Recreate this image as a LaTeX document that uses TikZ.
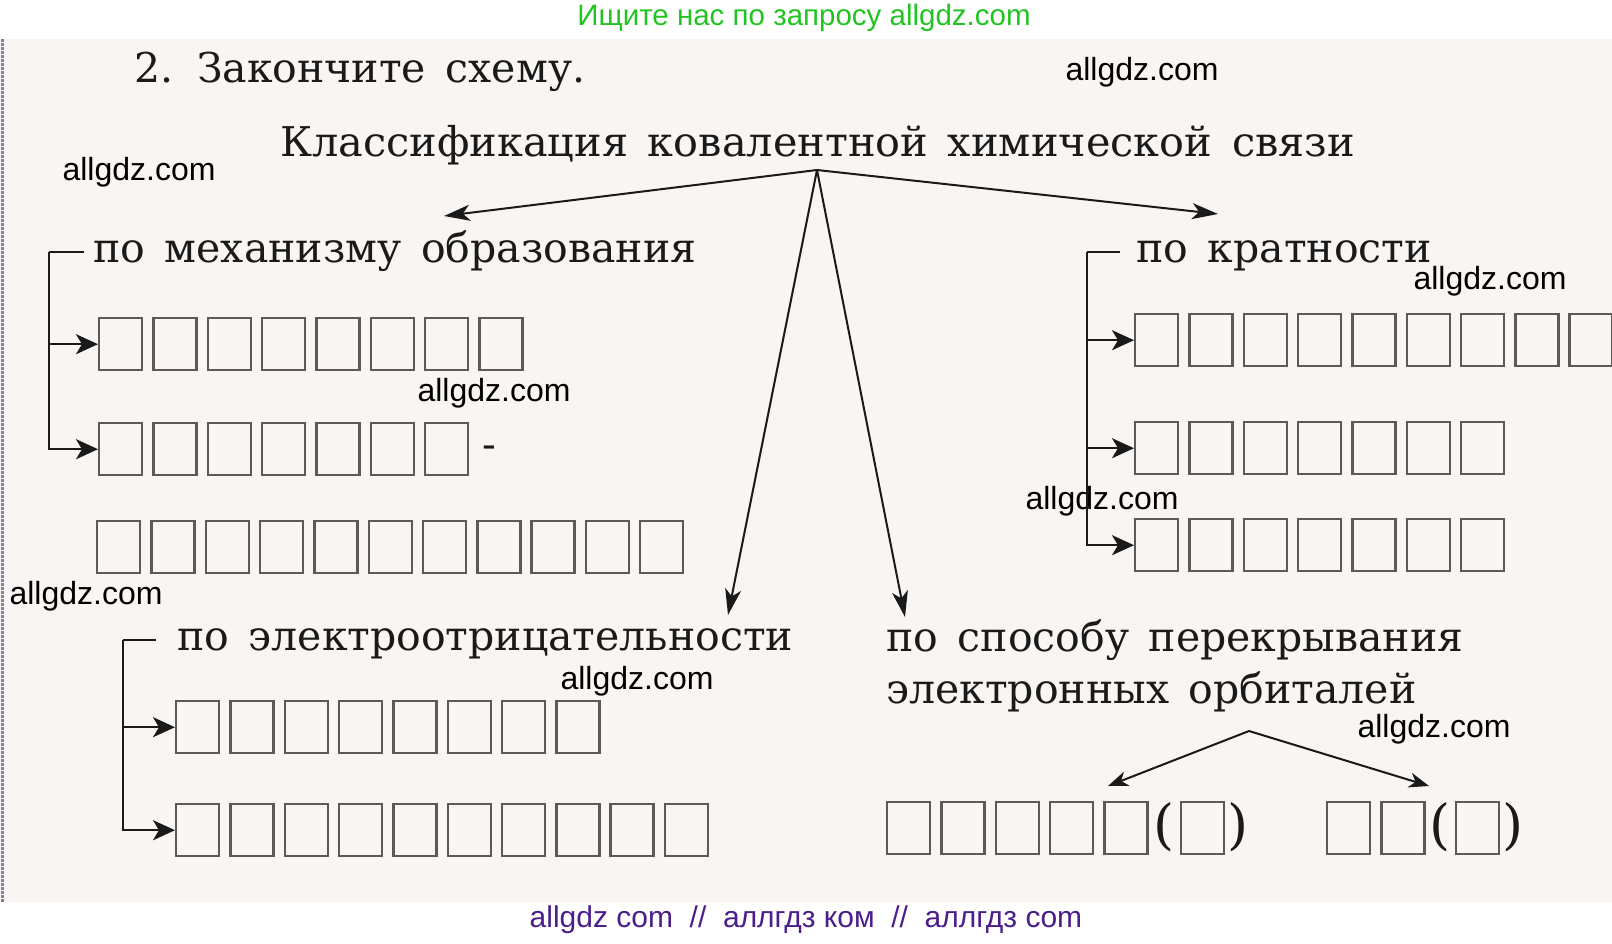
\documentclass[tikz,border=0pt]{standalone}
\usepackage{fontspec}
\setmainfont{DejaVu Serif}[WordSpace=1.5]
\newfontfamily\wmfont{Liberation Sans}
\usetikzlibrary{arrows.meta}
\definecolor{paper}{HTML}{F8F5F2}
\definecolor{ink}{HTML}{1A1A1A}
\definecolor{boxgray}{HTML}{5A5A5A}
\definecolor{wmgreen}{HTML}{22C422}
\definecolor{wmpurple}{HTML}{4B1E8C}
\definecolor{edge}{HTML}{8C7C94}
\tikzset{
  cell/.style={draw=boxgray,line width=2.4pt,minimum width=43pt,minimum height=52pt,inner sep=0pt,anchor=north west},
  lbl/.style={anchor=base west,inner sep=0pt,text=ink,font=\fontsize{41}{41}\selectfont},
  paren/.style={anchor=center,inner sep=0pt,text=ink,font=\fontsize{54}{54}\selectfont},
  wm/.style={inner sep=0pt,font=\wmfont\fontsize{32}{32}\selectfont},
  arr/.style={draw=ink,line width=2pt,-{Stealth[length=26pt,width=16pt,inset=7pt]}},
  sarr/.style={draw=ink,line width=2pt,-{Stealth[length=20pt,width=15pt,inset=6pt]}},
  brk/.style={draw=ink,line width=2.4pt,-{Stealth[length=22pt,width=20pt,inset=6pt]}},
}
\begin{document}
\begin{tikzpicture}[x=1pt,y=-1pt]
\useasboundingbox (0,0) rectangle (1612,943);
\fill[paper] (0,39) rectangle (1612,902);
\draw[edge,line width=3pt,densely dotted] (2,39) -- (2,902);

% watermarks
\node[wm,text=wmgreen,font=\wmfont\fontsize{29.5}{29.5}\selectfont] (wtop) at (804,18) {Ищите нас по запросу allgdz.com};
\node[wm,text=wmpurple,font=\wmfont\fontsize{30}{30}\selectfont] (wbot) at (806,920) {allgdz com\ \ //\ \ аллгдз ком\ \ //\ \ аллгдз com};
\foreach \x/\y [count=\k] in {1142/72,139/172,494/393,86/596,637/681,1102/501,1490/281,1434/729}
  \node[wm] (wm\k) at (\x,\y) {allgdz.com};

% titles
\node[lbl] (task) at (134,82) {2. Закончите схему.};
\node[lbl,xscale=1.01] (head) at (280,156) {Классификация ковалентной химической связи};
\coordinate (hub) at (817,170);

% branches
\node[lbl] (mech) at (93,262) {по механизму образования};
\node[lbl] (mult) at (1136,262) {по кратности};
\node[lbl] (eneg) at (177,650) {по электроотрицательности};
\node[lbl] (ovl) at (886,651) {по способу перекрывания};
\node[lbl] (ovl2) at (886,703) {электронных орбиталей};

\coordinate (tomech) at (444,216);
\coordinate (tomult) at (1218,214);
\coordinate (toeneg) at (728,615);
\coordinate (toovl) at (905,617);
\draw[arr] (hub) -- (tomech);
\draw[arr] (hub) -- (tomult);
\draw[arr] (hub) -- (toeneg);
\draw[arr] (hub) -- (toovl);

% boxes
\foreach \i in {0,...,7} \node[cell] (ma\i) at ({98+54.3*\i},317) {};
\foreach \i in {0,...,6} \node[cell] (mb\i) at ({98+54.3*\i},422) {};
\node[lbl] (dash) at (482,458) {-};
\foreach \i in {0,...,10} \node[cell] (mc\i) at ({96+54.3*\i},520) {};

\foreach \i in {0,...,8} \node[cell] (ka\i) at ({1134+54.3*\i},313) {};
\foreach \i in {0,...,6} \node[cell] (kb\i) at ({1134+54.3*\i},421) {};
\foreach \i in {0,...,6} \node[cell] (kc\i) at ({1134+54.3*\i},518) {};

\foreach \i in {0,...,7} \node[cell] (ea\i) at ({175+54.3*\i},700) {};
\foreach \i in {0,...,9} \node[cell] (eb\i) at ({175+54.3*\i},803) {};

\foreach \i in {0,...,4} \node[cell] (oa\i) at ({886+54.3*\i},801) {};
\node[paren] (oal) at (1164,827) {(};
\node[cell] (oax) at (1180,801) {};
\node[paren] (oar) at (1238,827) {)};
\foreach \i in {0,1} \node[cell] (ob\i) at ({1326+54.3*\i},801) {};
\node[paren] (obl) at (1440,827) {(};
\node[cell] (obx) at (1455,801) {};
\node[paren] (obr) at (1513,827) {)};

% brackets
\coordinate (mcorner) at (49,252);
\coordinate (mtip) at (84,252);
\draw[brk,-] (mtip) -- (mcorner);
\draw[brk] (mcorner) |- (mb0.west);
\draw[brk] (mcorner |- ma0.west) -- (ma0.west);

\coordinate (kcorner) at (1087,252);
\coordinate (ktip) at (1120,252);
\draw[brk,-] (ktip) -- (kcorner);
\draw[brk] (kcorner) |- (kc0.west);
\draw[brk] (kcorner |- ka0.west) -- (ka0.west);
\draw[brk] (kcorner |- kb0.west) -- (kb0.west);

\coordinate (ecorner) at (123,640);
\coordinate (etip) at (156,640);
\draw[brk,-] (etip) -- (ecorner);
\draw[brk] (ecorner) |- (eb0.west);
\draw[brk] (ecorner |- ea0.west) -- (ea0.west);

% split
\coordinate (hub2) at (1249,731);
\coordinate (tooa) at (1108,786);
\coordinate (toob) at (1429,786);
\draw[sarr] (hub2) -- (tooa);
\draw[sarr] (hub2) -- (toob);
\end{tikzpicture}
\end{document}
